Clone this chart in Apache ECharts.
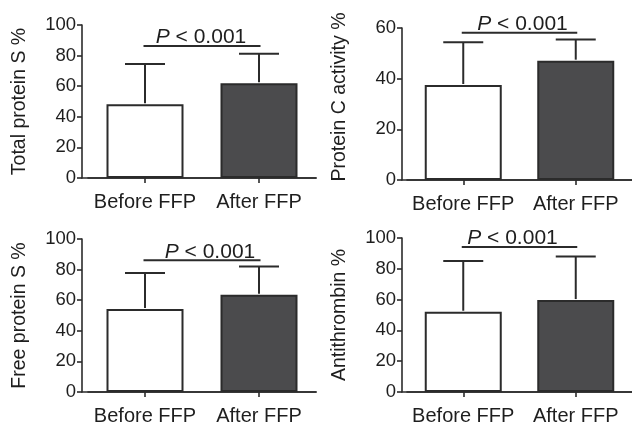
<!DOCTYPE html>
<html>
<head>
<meta charset="utf-8">
<script src="https://cdn.jsdelivr.net/npm/echarts@6/dist/echarts.min.js"></script>
<style>
html,body{margin:0;padding:0;background:#fff;}
#chart{width:632px;height:426px;}
</style>
</head>
<body>
<div id="chart"></div>
<script>
// ---- data ----
const categories = ['Before FFP', 'After FFP'];
const panelNames = ['Total protein S %', 'Protein C activity %', 'Free protein S %', 'Antithrombin %'];
const yMax = [100, 60, 100, 100];
const yInterval = [20, 20, 20, 20];
const totalProteinS_mean = [48.2, 61.9];
const totalProteinS_upper = [74.5, 81.2];
const proteinC_mean = [37.5, 47.1];
const proteinC_upper = [54.4, 55.5];
const freeProteinS_mean = [54.2, 63.6];
const freeProteinS_upper = [77.8, 82.1];
const antithrombin_mean = [52.1, 59.7];
const antithrombin_upper = [85.0, 88.0];
const pLabel = 'P';
const pRest = ' < 0.001';
const pBracketY = [86.3, 58.1, 86.1, 94.2];

const means = [totalProteinS_mean, proteinC_mean, freeProteinS_mean, antithrombin_mean];
const uppers = [totalProteinS_upper, proteinC_upper, freeProteinS_upper, antithrombin_upper];

// ---- layout ----
const layout = [
  {axisX: 82, left: 88, width: 228, top: 25, height: 153, textDx: -1, namePad: [0, 0, 0, 0]},
  {axisX: 402, left: 407, width: 230, top: 28, height: 152, textDx: 3, namePad: [0, 0, 0, 14]},
  {axisX: 82, left: 88, width: 228, top: 239, height: 153, textDx: 8, namePad: [0, 0, 0, 0]},
  {axisX: 402, left: 407, width: 230, top: 238, height: 154, textDx: -7, namePad: [0, 0, 0, 0]}
];
const FONT = '"Liberation Sans", Arial, Helvetica, sans-serif';
const INK = '#2b2b2b';
const TXT = '#1e1e1e';
const DARK = '#4b4b4d';

const grids = [], xAxes = [], yAxes = [], series = [];
layout.forEach((L, i) => {
  const gMain = grids.length;
  grids.push({left: L.left, top: L.top, width: L.width, height: L.height, containLabel: false});
  grids.push({left: L.axisX, top: L.top, width: L.left + L.width - L.axisX, height: L.height, containLabel: false});
  xAxes.push({
    type: 'category', gridIndex: gMain, data: categories,
    axisLine: {show: true, lineStyle: {color: INK, width: 1.6}},
    axisTick: {show: true, alignWithLabel: true, length: 5, lineStyle: {color: INK, width: 1.6}},
    axisLabel: {color: TXT, fontSize: 20, fontFamily: FONT, margin: 14, interval: 0},
    splitLine: {show: false}
  });
  xAxes.push({
    type: 'value', gridIndex: gMain + 1, min: 0, max: 1,
    axisLine: {show: true, onZero: false, lineStyle: {color: INK, width: 1.6}},
    axisTick: {show: false}, axisLabel: {show: false}, splitLine: {show: false}
  });
  yAxes.push({
    type: 'value', gridIndex: gMain, min: 0, max: yMax[i], interval: yInterval[i],
    offset: L.left - L.axisX,
    name: panelNames[i], nameLocation: 'middle', nameGap: 52,
    nameTextStyle: {fontSize: 19.5, fontFamily: FONT, color: TXT, padding: L.namePad},
    axisLine: {show: true, lineStyle: {color: INK, width: 1.6}},
    axisTick: {show: true, length: 5, lineStyle: {color: INK, width: 1.6}},
    axisLabel: {color: TXT, fontSize: 18.5, fontFamily: FONT, margin: 6},
    splitLine: {show: false}
  });
  yAxes.push({
    type: 'value', gridIndex: gMain + 1, min: 0, max: 1, show: false
  });
  const xi = gMain, yi = gMain;
  series.push({
    type: 'bar', xAxisIndex: xi, yAxisIndex: yi, barWidth: 77,
    data: means[i].map((v, k) => ({value: v, itemStyle: {color: k === 0 ? '#ffffff' : DARK}})),
    itemStyle: {borderColor: INK, borderWidth: 2},
    silent: true, z: 2
  });
  series.push({
    type: 'custom', xAxisIndex: xi, yAxisIndex: yi, z: 3, silent: true,
    data: means[i].map((v, k) => [k, v, uppers[i][k]]),
    renderItem: function (params, api) {
      const x = api.value(0);
      const p0 = api.coord([x, api.value(1)]);
      const p1 = api.coord([x, api.value(2)]);
      const st = {stroke: INK, lineWidth: 2};
      return {type: 'group', children: [
        {type: 'line', shape: {x1: p0[0], y1: p0[1] - 1, x2: p1[0], y2: p1[1]}, style: st},
        {type: 'line', shape: {x1: p1[0] - 20, y1: p1[1], x2: p1[0] + 20, y2: p1[1]}, style: st}
      ]};
    }
  });
  series.push({
    type: 'custom', xAxisIndex: xi, yAxisIndex: yi, z: 3, silent: true,
    data: [[0, pBracketY[i], 1]],
    renderItem: function (params, api) {
      const a = api.coord([0, api.value(1)]);
      const b = api.coord([api.value(2), api.value(1)]);
      const mid = (a[0] + b[0]) / 2 + layout[i].textDx;
      return {type: 'group', children: [
        {type: 'line', shape: {x1: a[0] - 1.5, y1: a[1], x2: b[0] + 1.5, y2: b[1]}, style: {stroke: INK, lineWidth: 2}},
        {type: 'text', style: {
          text: '{i|' + pLabel + '}{n|' + pRest + '}', x: mid, y: a[1] + 2,
          align: 'center', verticalAlign: 'bottom',
          fontSize: 21, fontFamily: FONT, fill: TXT,
          rich: {
            i: {fontStyle: 'italic', fontSize: 21, fontFamily: FONT, fill: TXT},
            n: {fontSize: 21, fontFamily: FONT, fill: TXT}
          }
        }}
      ]};
    }
  });
});

const chart = echarts.init(document.getElementById('chart'), null, {renderer: 'canvas'});
chart.setOption({
  backgroundColor: '#ffffff',
  animation: false,
  grid: grids, xAxis: xAxes, yAxis: yAxes, series: series
});
</script>
</body>
</html>
